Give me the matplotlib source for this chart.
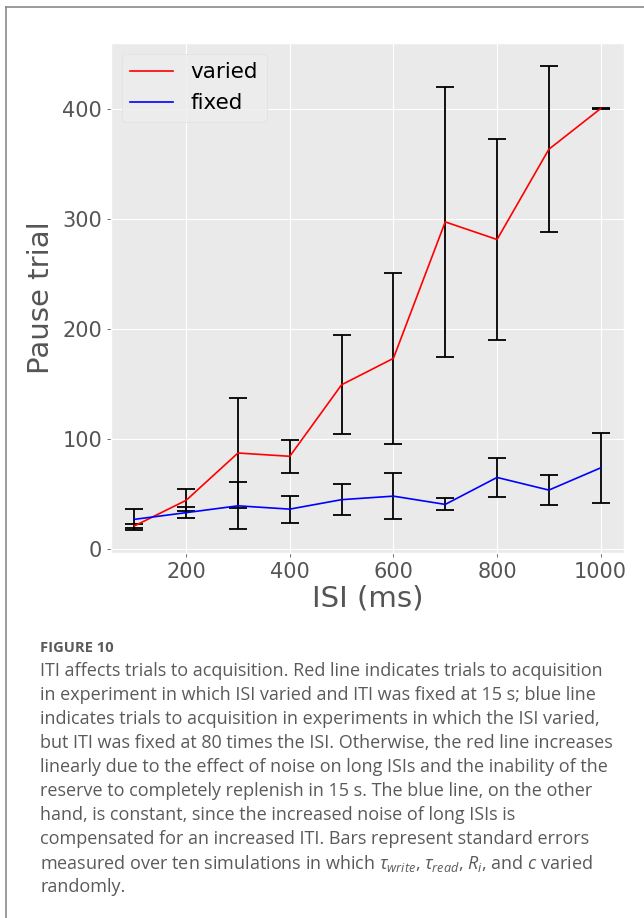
import matplotlib
matplotlib.use("Agg")
import matplotlib.pyplot as plt
from matplotlib.lines import Line2D

plt.style.use("ggplot")
plt.rcParams["font.family"] = ["DejaVu Sans"]
plt.rcParams["mathtext.fontset"] = "custom"
plt.rcParams["mathtext.it"] = "Open Sans:italic"
plt.rcParams["mathtext.rm"] = "Open Sans"
plt.rcParams["mathtext.fallback"] = "stixsans"

# Trials to acquisition vs. ISI
isi = [100, 200, 300, 400, 500, 600, 700, 800, 900, 1000]
varied = [20.7, 44, 87, 84, 149, 173, 297, 281, 363, 400]
varied_err = [2.1, 10, 50, 15, 45, 78, 123, 91, 75.5, 0.3]
fixed = [26.7, 32.8, 39, 36, 44.6, 47.8, 40.3, 64.8, 53.3, 73.5]
fixed_err = [9.5, 5.2, 21.2, 12.3, 14, 21, 5.5, 17.8, 13.5, 32]

series_labels = ["varied", "fixed"]
x_label = "ISI (ms)"
y_label = "Pause trial"

caption_title = "FIGURE 10"
caption_lines = [
    "ITI affects trials to acquisition. Red line indicates trials to acquisition",
    "in experiment in which ISI varied and ITI was fixed at 15 s; blue line",
    "indicates trials to acquisition in experiments in which the ISI varied,",
    "but ITI was fixed at 80 times the ISI. Otherwise, the red line increases",
    "linearly due to the effect of noise on long ISIs and the inability of the",
    "reserve to completely replenish in 15 s. The blue line, on the other",
    "hand, is constant, since the increased noise of long ISIs is",
    "compensated for an increased ITI. Bars represent standard errors",
    r"measured over ten simulations in which $\tau_{write}$, $\tau_{read}$, $R_i$, and $c$ varied",
    "randomly.",
]

W, H = 644, 918
fig = plt.figure(figsize=(W / 100, H / 100), dpi=100)
fig.patch.set_facecolor("white")

ax = fig.add_axes([111 / W, 1 - 553 / H, (624 - 111) / W, (553 - 43) / H])
ax.set_facecolor("#EAEAEA")
ax.errorbar(isi, varied, yerr=varied_err, color="red", ecolor="black",
            lw=1.2, elinewidth=1.3, capsize=6.5, capthick=1.3, label=series_labels[0])
ax.errorbar(isi, fixed, yerr=fixed_err, color="blue", ecolor="black",
            lw=1.2, elinewidth=1.3, capsize=6.5, capthick=1.3, label=series_labels[1])

ax.set_xticks([200, 400, 600, 800, 1000])
ax.set_yticks([0, 100, 200, 300, 400])
ax.tick_params(labelsize=15, colors="#555555", length=3, width=0.6)
ax.set_xlabel(x_label, fontsize=21, color="#555555", labelpad=2)
ax.set_ylabel(y_label, fontsize=21, color="#555555", labelpad=5)

handles, labels = ax.get_legend_handles_labels()
handles = [Line2D([], [], color=c, lw=1.2) for c in ("red", "blue")]
leg = ax.legend(handles, labels, loc="upper left", fontsize=15.5)
leg.get_frame().set_facecolor("#EDEDED")
leg.get_frame().set_edgecolor("#DDDDDD")
for t in leg.get_texts():
    t.set_color("black")

# Panel frame
frame_kw = dict(color="#8a8a8a", lw=1.2, transform=fig.transFigure)
fig.add_artist(Line2D([6 / W, 1.0], [1 - 7 / H, 1 - 7 / H], **frame_kw))
fig.add_artist(Line2D([6 / W, 6 / W], [1 - 7 / H, 0.0], **frame_kw))

# Caption
cap_color = "#5a5a5a"
fig.text(40 / W, 1 - 646 / H, caption_title, fontsize=10.6, fontweight="bold",
         family="Open Sans", color=cap_color, va="center_baseline")
for i, line in enumerate(caption_lines):
    y = 669.5 + i * 23.9
    fig.text(40 / W, 1 - y / H, line, fontsize=13.0, family="Open Sans",
             color=cap_color, va="center_baseline")

fig.savefig("out.png", dpi=100)
